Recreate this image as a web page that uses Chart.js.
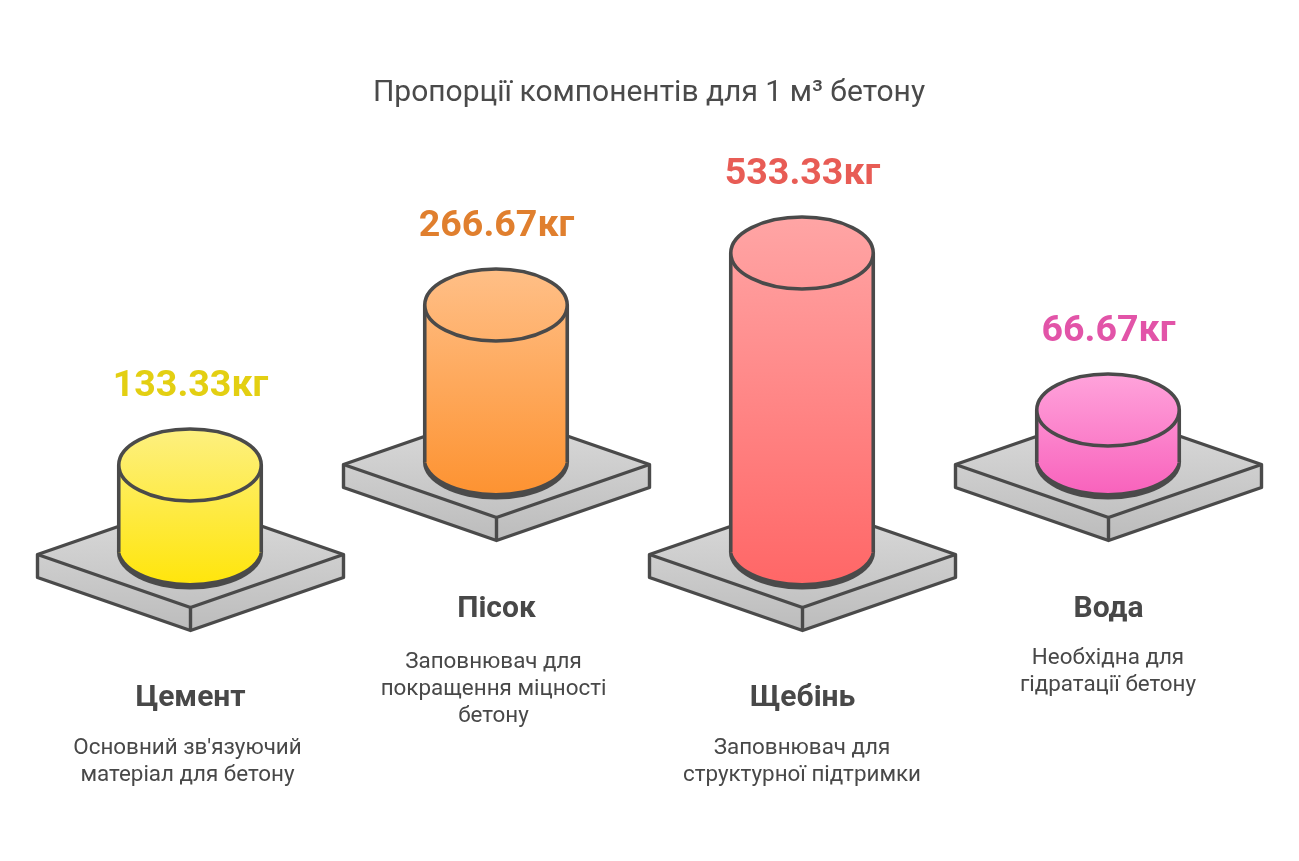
<!DOCTYPE html>
<html>
<head>
<meta charset="utf-8">
<title>Пропорції компонентів для 1 м³ бетону</title>
<script src="https://cdn.jsdelivr.net/npm/chart.js@4/dist/chart.umd.min.js"></script>
<style>
	html, body { margin: 0; padding: 0; background: #fff; }
	canvas { display: block; }
</style>
</head>
<body>
<canvas id="chart_1" width="1299" height="861"></canvas>
<script>
var titleText = "Пропорції компонентів для 1 м³ бетону";
var categories = ["Цемент", "Пісок", "Щебінь", "Вода"];
var frontValues = [133.33, null, 533.33, null];
var backValues = [null, 266.67, null, 66.67];
var valueTexts = ["133.33кг", "266.67кг", "533.33кг", "66.67кг"];
var descriptions = [
	["Основний зв'язуючий", "матеріал для бетону"],
	["Заповнювач для", "покращення міцності", "бетону"],
	["Заповнювач для", "структурної підтримки"],
	["Необхідна для", "гідратації бетону"]
];
var valueColors = ["#e3cf12", "#e07f2e", "#e85c55", "#e254a8"];
var topColors = ["#fdf080", "#ffbf87", "#ffa5a5", "#ffa3db"];
var bottomColors = ["#ffe509", "#fd9230", "#ff6666", "#f860bb"];

var inkColor = "#4a4a4a";
var capRy = 36;
var chartTop = 108;
var chartHeight = 861;
// the first two captions sit a bit left of their cylinders in the original
var captionShift = [-2.5, -2.5, 0, 0];

// two rows of plinths, each row has its own y axis so the kg values stay on scale
function axisRange(refValue, refPixel, pxPerKg) {
	var max = refValue + (refPixel - chartTop) / pxPerKg;
	return { min: max - (chartHeight - chartTop) / pxPerKg, max: max, display: false, grid: { display: false } };
}

function barGradient(ctx, axisId) {
	var chart = ctx.chart;
	var value = ctx.raw;
	if (value === null || value === undefined || !chart.scales[axisId]) return "#ccc";
	var scale = chart.scales[axisId];
	var top = scale.getPixelForValue(value) - capRy;
	var bottom = scale.getPixelForValue(ctx.dataset.base) + capRy;
	if (!isFinite(top) || !isFinite(bottom)) return "#ccc";
	var g = chart.ctx.createLinearGradient(0, top, 0, bottom);
	g.addColorStop(0, topColors[ctx.dataIndex]);
	g.addColorStop(1, bottomColors[ctx.dataIndex]);
	return g;
}

function eachBar(chart, fn) {
	chart.data.datasets.forEach(function(ds, d) {
		chart.getDatasetMeta(d).data.forEach(function(bar, i) {
			if (ds.data[i] !== null) fn(bar, i, ds);
		});
	});
}

function drawPlinth(c, x, y) {
	var hw = 153, hh = 53, side = 23;
	var g = c.createLinearGradient(0, y - hh, 0, y + hh + side);
	g.addColorStop(0, "#dcdcdc");
	g.addColorStop(1, "#bcbcbc");
	c.fillStyle = g;
	c.strokeStyle = inkColor;
	c.lineWidth = 3.4;
	c.lineJoin = "round";
	c.beginPath();
	c.moveTo(x - hw, y);
	c.lineTo(x, y - hh);
	c.lineTo(x + hw, y);
	c.lineTo(x + hw, y + side);
	c.lineTo(x, y + hh + side);
	c.lineTo(x - hw, y + side);
	c.closePath();
	c.fill();
	c.stroke();
	c.beginPath();
	c.moveTo(x - hw, y);
	c.lineTo(x, y + hh);
	c.lineTo(x + hw, y);
	c.moveTo(x, y + hh);
	c.lineTo(x, y + hh + side);
	c.stroke();
}

var cylinderPlugin = {
	id: "cylinders",
	beforeDatasetsDraw: function(chart) {
		var c = chart.ctx;
		c.save();
		eachBar(chart, function(bar) {
			var p = bar.getProps(["x", "y", "base", "width"], true);
			drawPlinth(c, p.x + 0.5, p.base + 2.5);
			c.fillStyle = inkColor;
			c.beginPath();
			c.ellipse(p.x, p.base, p.width / 2 + 1.8, capRy + 1.5, 0, 0, Math.PI * 2);
			c.fill();
			c.fillStyle = bar.options.backgroundColor;
			c.beginPath();
			c.ellipse(p.x, p.base - 4, p.width / 2 - 1, capRy - 1, 0, 0, Math.PI * 2);
			c.fill();
		});
		c.restore();
	},
	afterDatasetsDraw: function(chart) {
		var c = chart.ctx;
		c.save();
		eachBar(chart, function(bar, i) {
			var p = bar.getProps(["x", "y", "base", "width"], true);
			var rx = p.width / 2;
			c.strokeStyle = inkColor;
			c.lineWidth = 3.6;
			c.beginPath();
			c.moveTo(p.x - rx, p.y);
			c.lineTo(p.x - rx, p.base);
			c.moveTo(p.x + rx, p.y);
			c.lineTo(p.x + rx, p.base);
			c.stroke();
			c.fillStyle = bar.options.backgroundColor;
			c.beginPath();
			c.ellipse(p.x, p.y, rx, capRy, 0, 0, Math.PI * 2);
			c.fill();
			c.stroke();

			c.textAlign = "center";
			c.textBaseline = "middle";
			c.fillStyle = valueColors[i];
			c.font = "bold 37.6px Roboto";
			c.fillText(valueTexts[i], p.x + 0.5, p.y - 78.5);
			c.fillStyle = "#484848";
			c.font = "bold 30px Roboto";
			c.fillText(categories[i], p.x + 0.5, p.base + 147);
			c.font = "22.4px Roboto";
			var lines = descriptions[i];
			var first = p.base + (lines.length > 2 ? 200 : 196);
			lines.forEach(function(line, n) {
				c.fillText(line, p.x + captionShift[i], first + n * 27);
			});
		});
		c.restore();
	}
};

var passChart = new Chart("chart_1", {
	type: "bar",
	plugins: [cylinderPlugin],
	data: {
		labels: categories,
		datasets: [{
			label: "Передній ряд",
			data: frontValues,
			yAxisID: "yFront",
			base: -30.8,
			backgroundColor: function(ctx) { return barGradient(ctx, "yFront"); }
		}, {
			label: "Задній ряд",
			data: backValues,
			yAxisID: "yBack",
			base: -32.4,
			backgroundColor: function(ctx) { return barGradient(ctx, "yBack"); }
		}]
	},
	options: {
		responsive: false,
		animation: false,
		layout: { padding: { left: 37, right: 38, top: 0, bottom: 0 } },
		datasets: { bar: { grouped: false, barThickness: 142.5, borderWidth: 0 } },
		scales: {
			x: { display: false, grid: { display: false } },
			yFront: axisRange(533.33, 253, 0.53),
			yBack: axisRange(266.67, 305, 0.525)
		},
		plugins: {
			legend: { display: false },
			tooltip: { enabled: false },
			title: {
				display: true,
				text: titleText,
				color: "#4a4a4a",
				padding: { top: 78, bottom: 0 },
				font: { family: "Roboto", size: 30, weight: "normal", lineHeight: 1 }
			}
		}
	}
});
</script>
</body>
</html>
